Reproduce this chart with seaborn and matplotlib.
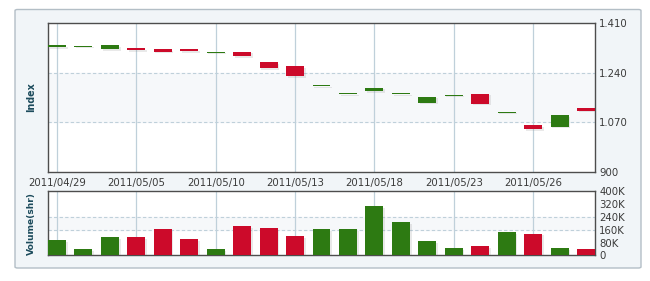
import matplotlib
matplotlib.use("Agg")
import matplotlib.pyplot as plt
import matplotlib.patheffects as pe
from matplotlib.patches import FancyBboxPatch
import seaborn as sns
import pandas as pd
import numpy as np

# ---------------- data ----------------
dates = ['2011/04/29', '2011/05/03', '2011/05/04', '2011/05/05', '2011/05/06',
         '2011/05/09', '2011/05/10', '2011/05/11', '2011/05/12', '2011/05/13',
         '2011/05/16', '2011/05/17', '2011/05/18', '2011/05/19', '2011/05/20',
         '2011/05/23', '2011/05/24', '2011/05/25', '2011/05/26', '2011/05/27',
         '2011/05/30']
opens = [1327, 1331, 1321, 1325, 1322, 1322, 1311, 1312, 1277, 1262,
         1195, 1167, 1176, 1167, 1137, 1163, 1168, 1104, 1060, 1054, 1120]
closes = [1334, 1331, 1335, 1318, 1312, 1315, 1311, 1297, 1256, 1228,
          1195, 1167, 1189, 1167, 1157, 1163, 1133, 1104, 1046, 1094, 1109]
volumes_k = [96, 39, 114, 114, 164, 102, 39, 183, 171, 121,
             164, 164, 308, 208, 89, 46, 58, 146, 135, 46, 39]
price_ticks = [900, 1070, 1240, 1410]
price_tick_labels = ['900', '1.070', '1.240', '1.410']
vol_ticks = [0, 80, 160, 240, 320, 400]
vol_tick_labels = ['0', '80K', '160K', '240K', '320K', '400K']
date_tick_idx = [0, 3, 6, 9, 12, 15, 18]

GREEN = '#2d7a12'
RED = '#cc0a2a'
GRID = '#bfd0da'
BAND = '#f6f8fa'
SPINE = '#4d4d4d'
LABEL = '#1c4b5c'
TXT = '#3a3a3a'

sns.set_theme(style='white')
plt.rcParams['font.family'] = ['DejaVu Sans']

fig = plt.figure(figsize=(6.5, 2.81), dpi=100)
fig.patch.set_facecolor('white')

W, H = 650.0, 281.0
panel = FancyBboxPatch((15 / W, (H - 268) / H), (641 - 15) / W, (268 - 9.5) / H,
                       boxstyle='round,pad=0,rounding_size=0.004',
                       transform=fig.transFigure, facecolor='#f1f5f8',
                       edgecolor='#b3bec6', linewidth=1.0, zorder=-10)
fig.patches.append(panel)

def fpos(left, top, right, bottom):
    return [left / W, 1 - bottom / H, (right - left) / W, (bottom - top) / H]

ax = fig.add_axes(fpos(48, 23.3, 595, 171.5))
axv = fig.add_axes(fpos(48, 191.3, 595, 255.3))
ax.set_zorder(5)
axv.set_zorder(5)

n = len(dates)
idx = np.arange(n)
xlim = (-0.34, n - 1 + 0.34)
bw = 0.68
shadow = [pe.SimplePatchShadow(offset=(1.2, -1.2), shadow_rgbFace='#888888', alpha=0.18), pe.Normal()]

direction = ['up' if c >= o else 'down' for o, c in zip(opens, closes)]
colors = [GREEN if d == 'up' else RED for d in direction]

# ---------------- price panel ----------------
ax.set_facecolor('white')
ax.axhspan(1070, 1240, color=BAND, zorder=0)
for y in [1070, 1240]:
    ax.axhline(y, color=GRID, lw=0.8, ls=(0, (3, 2)), zorder=1)
for i in date_tick_idx:
    ax.axvline(i, color=GRID, lw=0.9, zorder=1)

bottoms = [min(o, c) for o, c in zip(opens, closes)]
heights = [abs(c - o) for o, c in zip(opens, closes)]
doji_h = 3.0
b2 = [b - doji_h / 2 if h < 1 else b for b, h in zip(bottoms, heights)]
h2 = [doji_h if h < 1 else h for h in heights]
bars = ax.bar(idx, h2, bottom=b2, width=bw, color=colors, linewidth=0, zorder=3)
for b in bars:
    b.set_path_effects(shadow)

ax.set_xlim(*xlim)
ax.set_ylim(900, 1410)
ax.yaxis.tick_right()
ax.set_yticks(price_ticks)
ax.set_yticklabels(price_tick_labels)
ax.set_xticks(date_tick_idx)
ax.set_xticklabels([dates[i] for i in date_tick_idx])
ax.tick_params(axis='both', length=0, labelsize=7.3, colors=TXT)
ax.tick_params(axis='x', pad=5)
ax.tick_params(axis='y', pad=3)
ax.set_ylabel('Index', fontsize=6.9, fontweight='bold', color=LABEL)
ax.yaxis.set_label_position('left')
ax.yaxis.set_label_coords(-0.022, 0.5)
for s in ax.spines.values():
    s.set_color(SPINE)
    s.set_linewidth(1.0)

# ---------------- volume panel ----------------
axv.set_facecolor('white')
axv.axhspan(160, 240, color=BAND, zorder=0)
for y in [160, 240]:
    axv.axhline(y, color=GRID, lw=0.8, ls=(0, (3, 2)), zorder=1)
for i in date_tick_idx:
    axv.axvline(i, color=GRID, lw=0.9, zorder=1)

vdf = pd.DataFrame({'idx': idx, 'volume': volumes_k, 'dir': direction})
sns.barplot(data=vdf, x='idx', y='volume', hue='dir', palette={'up': GREEN, 'down': RED},
            dodge=False, width=bw, saturation=1, legend=False, ax=axv, zorder=3, linewidth=0)
for p in axv.patches:
    p.set_path_effects(shadow)

axv.set_xlim(*xlim)
axv.set_ylim(0, 400)
axv.yaxis.tick_right()
axv.set_yticks(vol_ticks)
axv.set_yticklabels(vol_tick_labels)
axv.set_xticks([])
axv.set_xlabel('')
axv.tick_params(axis='both', length=0, labelsize=7.3, colors=TXT)
axv.tick_params(axis='y', pad=3)
axv.set_ylabel('Volume(shr)', fontsize=6.6, fontweight='bold', color=LABEL)
axv.yaxis.set_label_position('left')
axv.yaxis.set_label_coords(-0.022, 0.5)
for s in axv.spines.values():
    s.set_color(SPINE)
    s.set_linewidth(1.0)

fig.savefig('out.png', dpi=100, facecolor='white')
